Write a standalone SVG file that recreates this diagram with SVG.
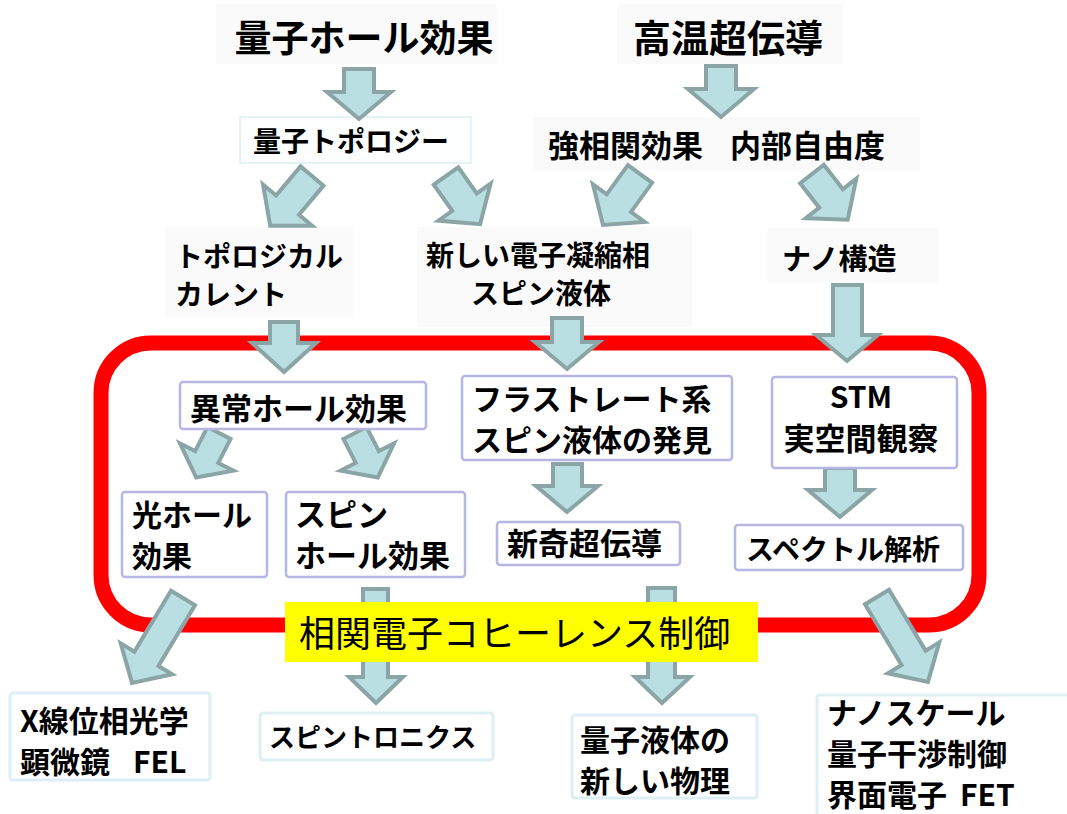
<svg xmlns="http://www.w3.org/2000/svg" width="1067" height="814" viewBox="0 0 1067 814">
<style>
.t{font-family:"Noto Sans CJK JP","Noto Sans",sans-serif;font-weight:700;fill:#000}
.lbl{font-family:"Noto Sans CJK JP","Noto Sans",sans-serif;font-weight:400;fill:#000}
.arr{fill:#BADFE2;stroke:#8BA5A6;stroke-width:4;stroke-linejoin:miter}
.bg{fill:#FAFAFA}
.inb{fill:#FFFFFF;stroke:#B6B6E3;stroke-width:2.5}
.outb{fill:#FFFFFF;stroke:#DDEFF5;stroke-width:3}
</style>
<rect width="1067" height="814" fill="#FFFFFF"/>

<g id="frame">
<rect x="101" y="343" width="878" height="282" rx="50" ry="50" fill="none" stroke="#FF0000" stroke-width="15"/>
</g>

<g id="top1"><rect class="bg" x="216" y="4" width="281" height="60"/><text class="t" x="364" y="52" font-size="37" text-anchor="middle">量子ホール効果</text></g>
<g id="top2"><rect class="bg" x="617" y="4" width="226" height="60"/><text class="t" x="728" y="52" font-size="38" text-anchor="middle">高温超伝導</text></g>

<g id="n_topo"><rect x="240" y="117" width="231" height="46" fill="#FDFEFE" stroke="#E6F3F6" stroke-width="2"/><text class="t" x="253" y="152" font-size="28">量子トポロジー</text></g>
<g id="n_corr"><rect class="bg" x="533" y="117" width="387" height="53"/><text class="t" x="548" y="157" font-size="31">強相関効果</text><text class="t" x="730" y="157" font-size="31">内部自由度</text></g>

<g id="n_tcur"><rect class="bg" x="165" y="227" width="188" height="90"/><text class="t" x="175" y="267" font-size="28">トポロジカル</text><text class="t" x="175" y="305" font-size="28">カレント</text></g>
<g id="n_new"><rect class="bg" x="417" y="227" width="275" height="100"/><text class="t" x="538" y="266" font-size="28" text-anchor="middle">新しい電子凝縮相</text><text class="t" x="541" y="304" font-size="28" text-anchor="middle">スピン液体</text></g>
<g id="n_nano"><rect class="bg" x="767" y="228" width="171" height="54"/><text class="t" x="782" y="270" font-size="29">ナノ構造</text></g>

<g id="connectors">
<path class="arr" d="M344,69 H374 V92 H391 L359,119 L327,92 H344 Z"/>
<path class="arr" d="M706,66 H736 V89 H754 L721,117 L688,89 H706 Z"/>
<path class="arr" transform="translate(312,176) rotate(40)" d="M-15,0 H15 V38 H32 L0,65 L-32,38 H-15 Z"/>
<path class="arr" transform="translate(446,176) rotate(-35.3)" d="M-15,0 H15 V32 H32 L0,59 L-32,32 H-15 Z"/>
<path class="arr" transform="translate(640,174) rotate(36)" d="M-15,0 H15 V36 H32 L0,63 L-32,36 H-15 Z"/>
<path class="arr" transform="translate(812,174) rotate(-38)" d="M-15,0 H15 V31 H32 L0,58 L-32,31 H-15 Z"/>
<path class="arr" d="M270,322 H298 V343 H316 L284,372 L252,343 H270 Z"/>
<path class="arr" d="M552,318 H582 V342 H599 L567,369 L535,342 H552 Z"/>
<path class="arr" d="M833,285 H862 V335 H878 L847,361 L816,335 H833 Z"/>
<path class="arr" transform="translate(219,433) rotate(27.1)" d="M-13,0 H13 V27 H30 L0,50 L-30,27 H-13 Z"/>
<path class="arr" transform="translate(355,433) rotate(-27.1)" d="M-13,0 H13 V27 H30 L0,50 L-30,27 H-13 Z"/>
<path class="arr" d="M553,464 H582 V486 H598 L567,512 L536,486 H553 Z"/>
<path class="arr" d="M825,468 H855 V490 H872 L840,517 L808,490 H825 Z"/>
<path class="arr" transform="translate(183,598) rotate(31)" d="M-14,0 H14 V71 H30 L0,99 L-30,71 H-14 Z"/>
<path class="arr" d="M363,589 H388 V677 H403 L376,703 L349,677 H363 Z"/>
<path class="arr" d="M648,588 H675 V677 H690 L662,703 L635,677 H648 Z"/>
<path class="arr" transform="translate(877,597) rotate(-31)" d="M-14,0 H14 V71 H30 L0,99 L-30,71 H-14 Z"/>
</g>

<g id="n_ahe"><rect class="inb" x="180" y="382" width="246" height="47" rx="3"/><text class="t" x="190" y="420" font-size="31">異常ホール効果</text></g>
<g id="n_ohe"><rect class="inb" x="122" y="492" width="145" height="85" rx="3"/><text class="t" x="132" y="526" font-size="30">光ホール</text><text class="t" x="132" y="567" font-size="30">効果</text></g>
<g id="n_she"><rect class="inb" x="286" y="492" width="179" height="85" rx="3"/><text class="t" x="295" y="526" font-size="31">スピン</text><text class="t" x="295" y="567" font-size="31">ホール効果</text></g>
<g id="n_frus"><rect class="inb" x="462" y="376" width="270" height="84" rx="3"/><text class="t" x="472" y="410" font-size="30">フラストレート系</text><text class="t" x="472" y="451" font-size="30">スピン液体の発見</text></g>
<g id="n_sc"><rect class="inb" x="497" y="522" width="183" height="43" rx="3"/><text class="t" x="507" y="555" font-size="31">新奇超伝導</text></g>
<g id="n_stm"><rect class="inb" x="772" y="377" width="185" height="91" rx="3"/><text class="t" x="861" y="408" font-size="30" text-anchor="middle">STM</text><text class="t" x="861" y="450" font-size="31" text-anchor="middle">実空間観察</text></g>
<g id="n_spec"><rect class="inb" x="735" y="525" width="228" height="45" rx="3"/><text class="t" x="746" y="560" font-size="28">スペクトル解析</text></g>

<g id="label"><rect x="285" y="602" width="473" height="60" fill="#FFFF00"/><text class="lbl" x="299" y="647" font-size="36">相関電子コヒーレンス制御</text></g>

<g id="n_xray"><rect class="outb" x="10" y="693" width="200" height="87" rx="3"/><text class="t" x="20" y="732" font-size="30">X線位相光学</text><text class="t" x="20" y="773" font-size="30">顕微鏡<tspan x="133">FEL</tspan></text></g>
<g id="n_spintro"><rect class="outb" x="260" y="713" width="233" height="47" rx="3"/><text class="t" x="269" y="747" font-size="26">スピントロニクス</text></g>
<g id="n_qliq"><rect class="outb" x="572" y="715" width="185" height="83" rx="3"/><text class="t" x="580" y="751" font-size="30">量子液体の</text><text class="t" x="580" y="792" font-size="30">新しい物理</text></g>
<g id="n_nanoscale"><rect class="outb" x="817" y="695" width="260" height="130" rx="3"/><text class="t" x="827" y="724" font-size="30">ナノスケール</text><text class="t" x="827" y="765" font-size="30">量子干渉制御</text><text class="t" x="827" y="806" font-size="30">界面電子<tspan x="960">FET</tspan></text></g>
</svg>
